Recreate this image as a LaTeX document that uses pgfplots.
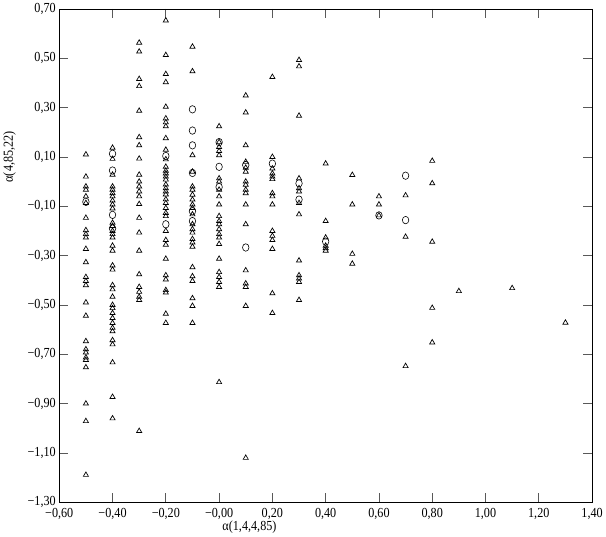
\documentclass[border=0pt]{standalone}
\usepackage{fontspec}
\setmainfont{Liberation Serif}[FakeStretch=0.88]
\usepackage{pgfplots}
\pgfplotsset{compat=1.18}
\begin{document}
\begin{tikzpicture}
\begin{axis}[
  scale only axis, width=540pt, height=500pt,
  xmin=-0.6, xmax=1.4, ymin=-1.3, ymax=0.7,
  xtick={-0.6,-0.4,...,1.41}, ytick={-1.3,-1.1,...,0.71},
  xticklabels={{−0,60},{−0,40},{−0,20},{−0,00},{0,20},{0,40},{0,60},{0,80},{1,00},{1,20},{1,40}},
  yticklabels={{−1,30},{−1,10},{−0,90},{−0,70},{−0,50},{−0,30},{−0,10},{0,10},{0,30},{0,50},{0,70}},
  tick align=inside, major tick length=9pt,
  every tick/.style={black!65, line width=0.8pt},
  tick label style={font=\fontsize{14}{14}\selectfont},
  xticklabel style={yshift=-3pt},
  axis line style={black, line width=0.7pt},
  xlabel={α(1,4,4,85)}, ylabel={α(4,85,22)},
  label style={font=\fontsize{14}{14}\selectfont},
  xlabel style={at={(axis description cs:0.357,-0.03)}, anchor=north},
  ylabel style={at={(axis description cs:-0.075,0.7)}, anchor=south},
]
\addplot[only marks, mark=triangle, mark size=3pt, mark options={black, line width=0.7pt}] coordinates {
(-0.5,0.11)(-0.5,0.02)(-0.5,-0.02)(-0.5,-0.033)(-0.5,-0.06)(-0.5,-0.087)(-0.5,-0.147)(-0.5,-0.197)(-0.5,-0.213)(-0.5,-0.227)(-0.5,-0.273)(-0.5,-0.327)(-0.5,-0.387)(-0.5,-0.403)(-0.5,-0.42)(-0.5,-0.49)(-0.5,-0.544)(-0.5,-0.647)(-0.5,-0.68)(-0.5,-0.693)(-0.5,-0.713)(-0.5,-0.723)(-0.5,-0.753)(-0.5,-0.90)(-0.5,-0.971)(-0.5,-1.189)
(-0.4,0.137)(-0.4,0.092)(-0.4,0.028)(-0.4,-0.02)(-0.4,-0.033)(-0.4,-0.047)(-0.4,-0.06)(-0.4,-0.077)(-0.4,-0.093)(-0.4,-0.109)(-0.4,-0.167)(-0.4,-0.18)(-0.4,-0.2)(-0.4,-0.213)(-0.4,-0.227)(-0.4,-0.26)(-0.4,-0.28)(-0.4,-0.34)(-0.4,-0.357)(-0.4,-0.42)(-0.4,-0.437)(-0.4,-0.467)(-0.4,-0.5)(-0.4,-0.513)(-0.4,-0.533)(-0.4,-0.553)(-0.4,-0.573)(-0.4,-0.593)(-0.4,-0.607)(-0.4,-0.643)(-0.4,-0.66)(-0.4,-0.733)(-0.4,-0.873)(-0.4,-0.96)
(-0.3,0.563)(-0.3,0.527)(-0.3,0.416)(-0.3,0.387)(-0.3,0.287)(-0.3,0.18)(-0.3,0.147)(-0.3,0.093)(-0.3,0.028)(-0.3,0.0)(-0.3,-0.02)(-0.3,-0.04)(-0.3,-0.06)(-0.3,-0.091)(-0.3,-0.147)(-0.3,-0.207)(-0.3,-0.28)(-0.3,-0.376)(-0.3,-0.427)(-0.3,-0.447)(-0.3,-0.467)(-0.3,-0.48)(-0.3,-1.011)
(-0.2,0.653)(-0.2,0.513)(-0.2,0.436)(-0.2,0.403)(-0.2,0.303)(-0.2,0.256)(-0.2,0.24)(-0.2,0.224)(-0.2,0.176)(-0.2,0.129)(-0.2,0.09)(-0.2,0.06)(-0.2,0.044)(-0.2,0.033)(-0.2,0.02)(-0.2,0.008)(-0.2,-0.012)(-0.2,-0.027)(-0.2,-0.04)(-0.2,-0.052)(-0.2,-0.072)(-0.2,-0.087)(-0.2,-0.107)(-0.2,-0.127)(-0.2,-0.14)(-0.2,-0.2)(-0.2,-0.237)(-0.2,-0.256)(-0.2,-0.313)(-0.2,-0.38)(-0.2,-0.397)(-0.2,-0.44)(-0.2,-0.45)(-0.2,-0.536)(-0.2,-0.573)
(-0.1,0.547)(-0.1,0.447)(-0.1,0.107)(-0.1,0.04)(-0.1,-0.02)(-0.1,-0.033)(-0.1,-0.053)(-0.1,-0.073)(-0.1,-0.093)(-0.1,-0.107)(-0.1,-0.133)(-0.1,-0.173)(-0.1,-0.193)(-0.1,-0.207)(-0.1,-0.233)(-0.1,-0.247)(-0.1,-0.264)(-0.1,-0.347)(-0.1,-0.384)(-0.1,-0.403)(-0.1,-0.473)(-0.1,-0.504)(-0.1,-0.573)
(0,0.224)(0,0.16)(0,0.14)(0,0.124)(0,0.107)(0,0.013)(0,0.0)(0,-0.033)(0,-0.06)(0,-0.093)(0,-0.14)(0,-0.16)(0,-0.173)(0,-0.193)(0,-0.213)(0,-0.227)(0,-0.253)(0,-0.313)(0,-0.367)(0,-0.387)(0,-0.407)(0,-0.427)(0,-0.813)
(0.1,0.349)(0.1,0.28)(0.1,0.147)(0.1,0.08)(0.1,0.056)(0.1,0.04)(0.1,0.0)(0.1,-0.013)(0.1,-0.033)(0.1,-0.047)(0.1,-0.093)(0.1,-0.173)(0.1,-0.36)(0.1,-0.413)(0.1,-0.427)(0.1,-0.504)(0.1,-1.12)
(0.2,0.424)(0.2,0.1)(0.2,0.053)(0.2,0.033)(0.2,0.02)(0.2,0.01)(0.2,-0.047)(0.2,-0.06)(0.2,-0.093)(0.2,-0.2)(0.2,-0.22)(0.2,-0.237)(0.2,-0.273)(0.2,-0.453)(0.2,-0.533)
(0.3,0.493)(0.3,0.467)(0.3,0.267)(0.3,0.013)(0.3,-0.027)(0.3,-0.04)(0.3,-0.087)(0.3,-0.133)(0.3,-0.32)(0.3,-0.38)(0.3,-0.393)(0.3,-0.407)(0.3,-0.48)
(0.4,0.073)(0.4,-0.16)(0.4,-0.227)(0.4,-0.26)(0.4,-0.27)(0.4,-0.28)
(0.5,0.027)(0.5,-0.093)(0.5,-0.293)(0.5,-0.333)
(0.6,-0.06)(0.6,-0.093)(0.6,-0.137)
(0.7,-0.056)(0.7,-0.224)(0.7,-0.748)
(0.8,0.084)(0.8,-0.007)(0.8,-0.244)(0.8,-0.512)(0.8,-0.652)
(0.9,-0.444)(1.1,-0.432)(1.3,-0.572)
};
\addplot[only marks, mark=o, mark size=3.3pt, mark options={black, line width=0.6pt, yscale=1.15}] coordinates {
(-0.5,-0.082)
(-0.4,0.113)(-0.4,0.045)(-0.4,-0.135)(-0.4,-0.19)
(-0.2,0.104)(-0.2,-0.173)
(-0.1,0.293)(-0.1,0.207)(-0.1,0.147)(-0.1,0.035)(-0.1,-0.12)(-0.1,-0.16)
(0,0.16)(0,0.06)(0,-0.022)
(0.1,0.067)(0.1,-0.267)
(0.2,0.073)
(0.3,-0.007)(0.3,-0.073)
(0.4,-0.243)
(0.6,-0.137)
(0.7,0.024)(0.7,-0.156)
};
\end{axis}
\end{tikzpicture}
\end{document}
